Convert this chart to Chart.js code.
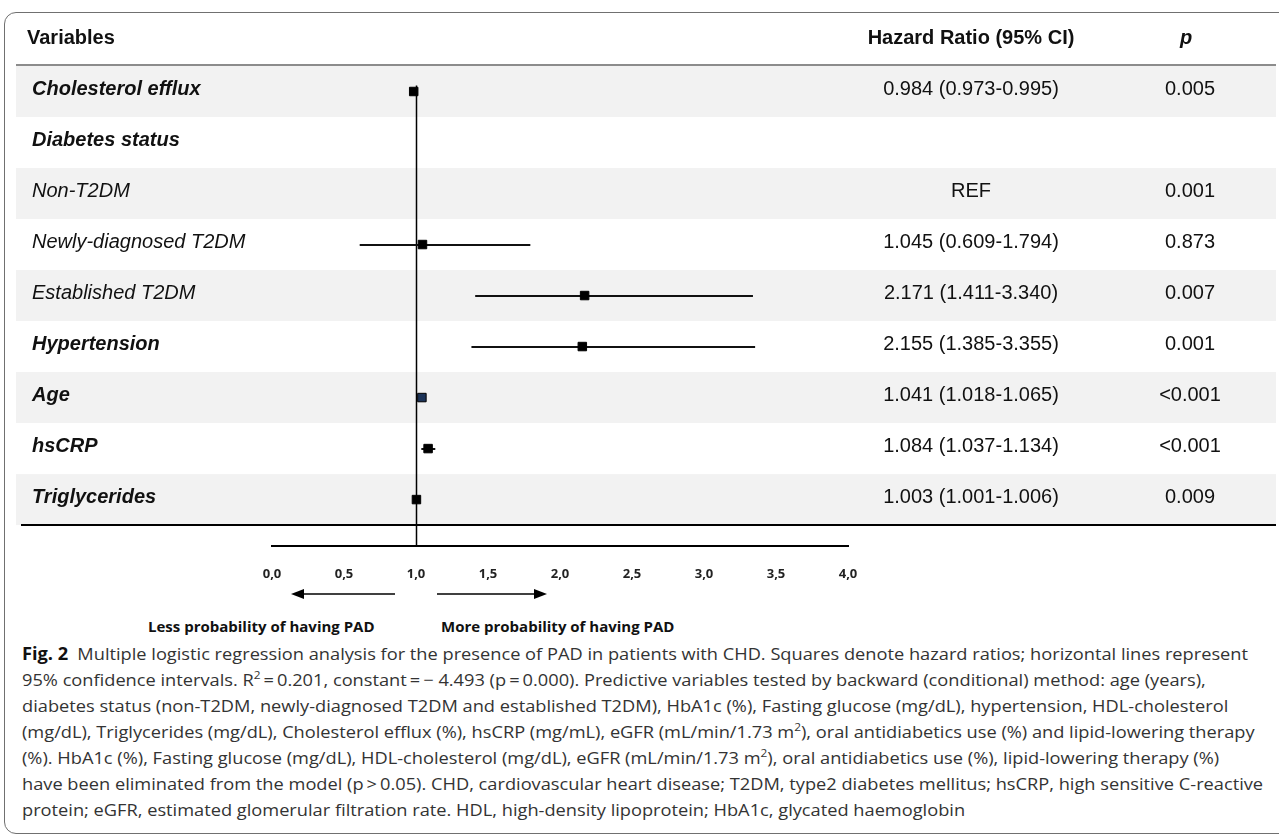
<!DOCTYPE html>
<html><head><meta charset="utf-8">
<script src="https://cdn.jsdelivr.net/npm/chart.js@4.4.1/dist/chart.umd.min.js"></script>
<style>
html,body{margin:0;padding:0;background:#fff;}
body{width:1279px;height:837px;position:relative;overflow:hidden;font-family:"Liberation Sans",Arial,sans-serif;}
#frame{position:absolute;left:4px;top:12px;width:1320px;height:822px;border:1.5px solid #707070;border-radius:12px;box-sizing:border-box;}
#c{position:absolute;left:0;top:0;}
.t{position:absolute;white-space:nowrap;color:#111;line-height:24px;height:24px;}
.hd{font-weight:bold;}
.lab{font-style:italic;}
.lab.b{font-weight:bold;}
.cen{transform:translateX(-50%);}
.arr{position:absolute;white-space:nowrap;font-family:"Open Sans","Noto Sans",sans-serif;font-weight:700;color:#111;line-height:20px;}
.cap{position:absolute;left:22px;white-space:nowrap;font-family:"Open Sans","Noto Sans",sans-serif;color:#333;line-height:22px;transform-origin:0 50%;}
.cap b{color:#111;}
sup{font-size:0.65em;line-height:0;vertical-align:0.6em;}
</style></head>
<body>
<div id="frame"></div>
<canvas id="c" width="1279" height="610"></canvas>
<div id="texts"></div>
<script>
// ---- data ----
const variables = ["Cholesterol efflux","Diabetes status","Non-T2DM","Newly-diagnosed T2DM","Established T2DM","Hypertension","Age","hsCRP","Triglycerides"];
const boldRows = [true,true,false,false,false,true,true,true,true];
const hazardRatio = [0.984,null,null,1.045,2.171,2.155,1.041,1.084,1.003];
const ciLower = [0.973,null,null,0.609,1.411,1.385,1.018,1.037,1.001];
const ciUpper = [0.995,null,null,1.794,3.340,3.355,1.065,1.134,1.006];
const hrText = ["0.984 (0.973-0.995)","","REF","1.045 (0.609-1.794)","2.171 (1.411-3.340)","2.155 (1.385-3.355)","1.041 (1.018-1.065)","1.084 (1.037-1.134)","1.003 (1.001-1.006)"];
const pText = ["0.005","","0.001","0.873","0.007","0.001","<0.001","<0.001","0.009"];
const markerColors = ["#000","#000","#000","#000","#000","#000","#1c3358","#000","#000"];
const xTickValues = [0,0.5,1,1.5,2,2.5,3,3.5,4];
const headers = ["Variables","Hazard Ratio (95% CI)","p"];
const arrowLabels = ["Less probability of having PAD","More probability of having PAD"];
const captionLines = [
 '<b>Fig. 2</b>&ensp;Multiple logistic regression analysis for the presence of PAD in patients with CHD. Squares denote hazard ratios; horizontal lines represent',
 '95% confidence intervals. R<sup>2</sup>&thinsp;=&thinsp;0.201, constant&thinsp;=&thinsp;− 4.493 (p&thinsp;=&thinsp;0.000). Predictive variables tested by backward (conditional) method: age (years),',
 'diabetes status (non-T2DM, newly-diagnosed T2DM and established T2DM), HbA1c (%), Fasting glucose (mg/dL), hypertension, HDL-cholesterol',
 '(mg/dL), Triglycerides (mg/dL), Cholesterol efflux (%), hsCRP (mg/mL), eGFR (mL/min/1.73 m<sup>2</sup>), oral antidiabetics use (%) and lipid-lowering therapy',
 '(%). HbA1c (%), Fasting glucose (mg/dL), HDL-cholesterol (mg/dL), eGFR (mL/min/1.73 m<sup>2</sup>), oral antidiabetics use (%), lipid-lowering therapy (%)',
 'have been eliminated from the model (p&thinsp;&gt;&thinsp;0.05). CHD, cardiovascular heart disease; T2DM, type2 diabetes mellitus; hsCRP, high sensitive C-reactive',
 'protein; eGFR, estimated glomerular filtration rate. HDL, high-density lipoprotein; HbA1c, glycated haemoglobin'
];

// ---- build points ----
const pts = [], ptColors = [];
hazardRatio.forEach((v,i)=>{ if(v!=null){ pts.push({x:v,y:i,lo:ciLower[i],hi:ciUpper[i]}); ptColors.push(markerColors[i]); } });

const forest = {
  id:'forest',
  beforeDraw(chart){
    const {ctx, scales:{x,y}} = chart;
    ctx.save();
    for(let i=0;i<variables.length;i++){
      const t=y.getPixelForValue(i-0.5), b=y.getPixelForValue(i+0.5);
      if(i%2===0){ ctx.fillStyle='#f2f2f2'; ctx.fillRect(16,t,1260,b-t); }
    }
    const top=y.getPixelForValue(-0.5);
    ctx.strokeStyle='#8c8c8c'; ctx.lineWidth=2;
    ctx.beginPath(); ctx.moveTo(16,top-1); ctx.lineTo(1276,top-1); ctx.stroke();
    const bot=y.getPixelForValue(variables.length-0.5);
    ctx.strokeStyle='#000'; ctx.lineWidth=2;
    ctx.beginPath(); ctx.moveTo(21,bot); ctx.lineTo(1276,bot); ctx.stroke();
    const x1=Math.round(x.getPixelForValue(1))+0.5;
    ctx.lineWidth=1.5;
    ctx.beginPath(); ctx.moveTo(x1,y.getPixelForValue(-0.12)); ctx.lineTo(x1,chart.chartArea.bottom); ctx.stroke();
    ctx.restore();
  },
  beforeDatasetsDraw(chart){
    const {ctx, scales:{x,y}} = chart;
    ctx.save(); ctx.strokeStyle='#111'; ctx.lineWidth=2;
    pts.forEach(p=>{
      const py=Math.round(y.getPixelForValue(p.y));
      ctx.beginPath(); ctx.moveTo(x.getPixelForValue(p.lo),py); ctx.lineTo(x.getPixelForValue(p.hi),py); ctx.stroke();
    });
    ctx.restore();
  },
  afterDraw(chart){
    const {ctx, scales:{x}} = chart;
    const x1=x.getPixelForValue(1), ay=594;
    ctx.save(); ctx.strokeStyle='#000'; ctx.fillStyle='#000'; ctx.lineWidth=1.5;
    const arrow=(from,to)=>{
      const dir=Math.sign(to-from);
      ctx.beginPath(); ctx.moveTo(from,ay); ctx.lineTo(to-dir*10,ay); ctx.stroke();
      ctx.beginPath(); ctx.moveTo(to,ay); ctx.lineTo(to-dir*13,ay-5); ctx.lineTo(to-dir*13,ay+5); ctx.closePath(); ctx.fill();
    };
    arrow(x1-21,x1-125);
    arrow(x1+21,x1+131);
    ctx.restore();
  }
};

const chart = new Chart(document.getElementById('c'),{
  type:'scatter',
  data:{datasets:[{data:pts,pointStyle:'rect',pointRadius:6,pointHoverRadius:6,backgroundColor:ptColors,borderColor:'#000',borderWidth:1}]},
  options:{
    responsive:false,animation:false,
    layout:{padding:{left:272,right:431,top:66,bottom:0}},
    plugins:{legend:{display:false},tooltip:{enabled:false}},
    scales:{
      x:{type:'linear',min:0,max:4,
         afterBuildTicks(s){ s.ticks = xTickValues.map(v=>({value:v})); },
         afterFit(s){ s.height=64; },
         grid:{display:false,drawTicks:false},
         border:{display:true,color:'#000',width:2},
         ticks:{padding:20,color:'#222',font:{family:'"Open Sans","Noto Sans",sans-serif',size:13,weight:'bold'},
                callback:(v)=>Number(v).toFixed(1).replace('.',','),maxRotation:0,autoSkip:false}},
      y:{type:'linear',reverse:true,min:-0.5,max:8.91,display:false}
    }
  },
  plugins:[forest]
});

// ---- text overlay ----
const T=document.getElementById('texts');
function add(cls,html,left,cy,size,extra){
  const d=document.createElement('div'); d.className='t '+cls; d.innerHTML=html;
  d.style.left=left+'px'; d.style.top=(cy-12)+'px'; d.style.fontSize=size+'px';
  if(extra) Object.assign(d.style,extra);
  T.appendChild(d); return d;
}
const HRX=971, PX=1190, FS=20;
add('hd',headers[0],27,37,FS);
add('hd cen',headers[1],HRX,37,FS);
add('hd cen',headers[2],PX-4,37,FS,{fontStyle:'italic'});
const ys=chart.scales.y;
variables.forEach((v,i)=>{
  const cy=ys.getPixelForValue(i)-4;
  add('lab'+(boldRows[i]?' b':''),v,32,cy,FS);
  if(hrText[i]) add('cen',hrText[i],HRX,cy,FS);
  if(pText[i]) add('cen',pText[i].replace('<','&lt;'),PX,cy,FS);
});
// arrow labels
const a1=document.createElement('div'); a1.className='arr'; a1.textContent=arrowLabels[0];
a1.style.cssText+='left:148px;top:616px;font-size:15px;'; document.body.appendChild(a1);
const a2=document.createElement('div'); a2.className='arr'; a2.textContent=arrowLabels[1];
a2.style.cssText+='left:441px;top:616px;font-size:15px;'; document.body.appendChild(a2);
// caption
const capTop=643, capStep=26, capFS=17;
const capEls=captionLines.map((h,i)=>{
  const d=document.createElement('div'); d.className='cap'; d.innerHTML=h;
  d.style.top=(capTop+i*capStep)+'px'; d.style.fontSize=capFS+'px'; document.body.appendChild(d); return d;
});
const w0=capEls[0].getBoundingClientRect().width;
const sx=1226/w0;
capEls.forEach(d=>d.style.transform='scaleX('+sx.toFixed(4)+')');
</script>
</body></html>
